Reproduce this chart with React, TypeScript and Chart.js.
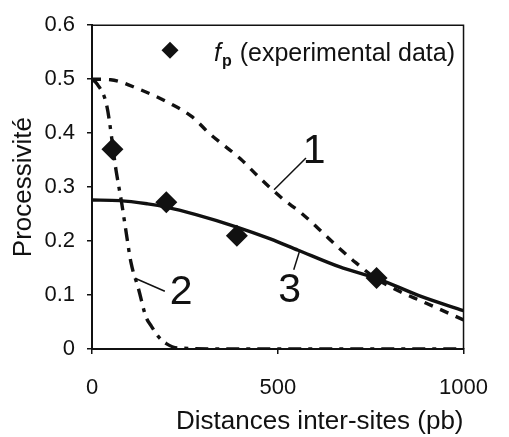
import React, { useEffect, useRef } from "react";
import { Chart, registerables } from "chart.js";

Chart.register(...registerables);

// Experimental data (diamonds)
const expX = [55, 200, 390, 766];
const expY = [0.37, 0.272, 0.21, 0.1315];

// Curve 1 (dashed)
const curve1X = [0, 50, 125, 210, 270, 315, 400, 450, 512, 563, 611, 662, 710, 766, 830, 886, 1000];
const curve1Y = [0.5, 0.499, 0.482, 0.455, 0.43, 0.4, 0.352, 0.318, 0.279, 0.252, 0.222, 0.189, 0.16, 0.13, 0.106, 0.089, 0.054];

// Curve 2 (dash-dot)
const curve2X = [0, 15, 40, 65, 80, 90, 105, 125, 145, 160, 180, 200, 230, 400, 600, 800, 1000];
const curve2Y = [0.5, 0.49, 0.45, 0.33, 0.27, 0.225, 0.16, 0.112, 0.06, 0.042, 0.022, 0.01, 0.002, 0, 0, 0, 0];

// Curve 3 (solid)
const curve3X = [0, 75, 150, 200, 280, 390, 480, 555, 667, 766, 880, 1000];
const curve3Y = [0.276, 0.275, 0.269, 0.263, 0.249, 0.226, 0.204, 0.183, 0.152, 0.131, 0.099, 0.071];

const yTicks = [0, 0.1, 0.2, 0.3, 0.4, 0.5, 0.6];
const xTicks = [0, 500, 1000];

const xTitle = "Distances inter-sites (pb)";
const yTitle = "Processivité";
const legendRest = " (experimental data)";

// Curve labels: [text, labelX, labelY, lineFromX, lineFromY, lineToX, lineToY] in data units
const curveLabels: [string, number, number, number, number, number, number][] = [
  ["1", 598, 0.365, 490, 0.295, 576, 0.354],
  ["2", 240, 0.104, 116, 0.131, 196, 0.107],
  ["3", 532, 0.108, 558, 0.18, 543, 0.147],
];

const FONT = '"Liberation Sans", Arial, sans-serif';
const INK = "#111";

const toPts = (xs: number[], ys: number[]) => xs.map((x, i) => ({ x, y: ys[i] }));

export default function App() {
  const ref = useRef<HTMLCanvasElement>(null);

  useEffect(() => {
    if (!ref.current) return;

    const overlay = {
      id: "overlay",
      beforeDatasetsDraw(chart: any) {
        const { ctx, chartArea } = chart;
        ctx.save();
        ctx.strokeStyle = INK;
        ctx.lineWidth = 1.5;
        ctx.beginPath();
        ctx.moveTo(chartArea.left, chartArea.top);
        ctx.lineTo(chartArea.right, chartArea.top);
        ctx.lineTo(chartArea.right, chartArea.bottom);
        ctx.stroke();
        ctx.restore();
      },
      afterDraw(chart: any) {
        const { ctx, chartArea, scales } = chart;
        const xs = scales.x;
        const ys = scales.y;
        ctx.save();
        ctx.fillStyle = INK;
        ctx.strokeStyle = INK;
        // legend
        const lx = chartArea.left + 78;
        const ly = chartArea.top + 25;
        const r = 8.5;
        ctx.beginPath();
        ctx.moveTo(lx - r, ly);
        ctx.lineTo(lx, ly - r);
        ctx.lineTo(lx + r, ly);
        ctx.lineTo(lx, ly + r);
        ctx.closePath();
        ctx.fill();
        let tx = chartArea.left + 122;
        const base = chartArea.top + 36;
        ctx.textBaseline = "alphabetic";
        ctx.textAlign = "left";
        ctx.font = `italic 25px ${FONT}`;
        ctx.fillText("f", tx, base);
        tx += ctx.measureText("f").width + 1;
        ctx.font = `bold 16px ${FONT}`;
        ctx.fillText("p", tx, base + 5);
        tx += ctx.measureText("p").width + 1;
        ctx.font = `25px ${FONT}`;
        ctx.fillText(legendRest, tx, base);

        // curve labels
        ctx.lineWidth = 1.5;
        ctx.font = `41px ${FONT}`;
        ctx.textAlign = "center";
        ctx.textBaseline = "middle";
        for (const [t, x, y, x1, y1, x2, y2] of curveLabels) {
          ctx.beginPath();
          ctx.moveTo(xs.getPixelForValue(x1), ys.getPixelForValue(y1));
          ctx.lineTo(xs.getPixelForValue(x2), ys.getPixelForValue(y2));
          ctx.stroke();
          ctx.fillText(t, xs.getPixelForValue(x), ys.getPixelForValue(y));
        }
        ctx.restore();
      },
    };

    const chart = new Chart(ref.current, {
      type: "scatter",
      data: {
        datasets: [
          {
            label: "fp (experimental data)",
            data: toPts(expX, expY),
            pointStyle: "rectRot",
            pointRadius: 11,
            backgroundColor: INK,
            borderColor: INK,
            borderWidth: 0,
            showLine: false,
          },
          {
            label: "3",
            data: toPts(curve3X, curve3Y),
            showLine: true,
            pointRadius: 0,
            borderColor: INK,
            borderWidth: 3.4,
            cubicInterpolationMode: "monotone",
          },
          {
            label: "1",
            data: toPts(curve1X, curve1Y),
            showLine: true,
            pointRadius: 0,
            borderColor: INK,
            borderWidth: 3.4,
            borderDash: [9, 8],
            cubicInterpolationMode: "monotone",
          },
          {
            label: "2",
            data: toPts(curve2X, curve2Y),
            showLine: true,
            pointRadius: 0,
            borderColor: INK,
            borderWidth: 3.4,
            borderDash: [13, 7, 4, 7],
            cubicInterpolationMode: "monotone",
          },
        ],
      } as any,
      options: {
        animation: false,
        responsive: true,
        maintainAspectRatio: false,
        layout: { padding: { top: 18, right: 30, left: 0, bottom: 0 } },
        plugins: {
          legend: { display: false },
          tooltip: { enabled: false },
        },
        scales: {
          x: {
            type: "linear",
            min: 0,
            max: 1000,
            afterFit: (s: any) => {
              s.height = 88;
            },
            afterBuildTicks: (s: any) => {
              s.ticks = xTicks.map((v) => ({ value: v }));
            },
            ticks: {
              color: INK,
              font: { family: FONT, size: 22 },
              padding: 21,
              maxRotation: 0,
              callback: (v: any) => String(Number(v)),
            },
            grid: {
              display: true,
              drawOnChartArea: false,
              drawTicks: true,
              tickLength: 5,
              color: INK,
              lineWidth: 1.5,
            },
            border: { display: true, color: INK, width: 2 },
            title: {
              display: true,
              text: xTitle,
              align: "end",
              color: INK,
              font: { family: FONT, size: 26 },
              padding: { top: 0, bottom: 0 },
            },
          },
          y: {
            type: "linear",
            min: 0,
            max: 0.6,
            afterFit: (s: any) => {
              s.width = 92;
            },
            afterBuildTicks: (s: any) => {
              s.ticks = yTicks.map((v) => ({ value: v }));
            },
            ticks: {
              color: INK,
              font: { family: FONT, size: 22 },
              padding: 12,
              callback: (v: any) => (Number(v) === 0 ? "0" : Number(v).toFixed(1)),
            },
            grid: {
              display: true,
              drawOnChartArea: false,
              drawTicks: true,
              tickLength: 5,
              color: INK,
              lineWidth: 1.5,
            },
            border: { display: true, color: INK, width: 2 },
            title: {
              display: true,
              text: yTitle,
              color: INK,
              font: { family: FONT, size: 26 },
              padding: { top: 8, bottom: 0 },
            },
          },
        },
      } as any,
      plugins: [overlay],
    });

    return () => chart.destroy();
  }, []);

  return (
    <div style={{ position: "fixed", left: 0, top: 0, width: 509, height: 437, background: "#fff" }}>
      <canvas ref={ref} />
    </div>
  );
}
